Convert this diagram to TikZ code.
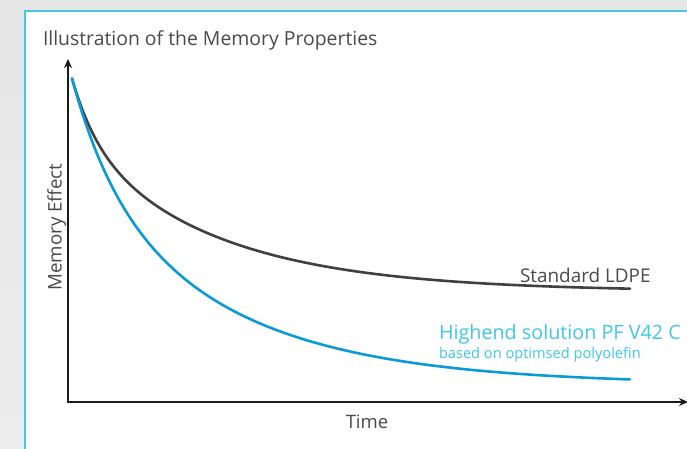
\documentclass[tikz,border=0pt]{standalone}
\usepackage{fontspec}
\setmainfont{Open Sans}
\usetikzlibrary{arrows.meta}
\definecolor{bggray}{HTML}{E6E6E6}
\definecolor{bggray2}{HTML}{EDEDED}
\definecolor{framecyan}{HTML}{45C8E6}
\definecolor{txtgray}{HTML}{4A4A4A}
\definecolor{ldpegray}{HTML}{404040}
\definecolor{pfblue}{HTML}{0A9AD6}
\definecolor{pfcyan}{HTML}{40C6E8}
\definecolor{axisblack}{HTML}{1A1A1C}
\tikzset{
  lbl/.style={inner sep=0pt, outer sep=0pt, text=txtgray},
  axisline/.style={draw=axisblack, line width=2.8pt, -{Stealth[length=9pt,width=8pt]}},
  curve/.style={line width=2.6pt, line cap=round, domain=72:630, samples=160}
}
\begin{document}
\begin{tikzpicture}[x=1pt,y=-1pt]
\useasboundingbox (0,0) rectangle (687,448);
% background
\shade[top color=bggray, bottom color=bggray2] (0,0) rectangle (687,448);
\fill[white] (25,11) rectangle (690,450);
\draw[framecyan, line width=2.6pt] (25,452) -- (25,11) -- (690,11);
% title
\node[lbl, anchor=base west, font=\fontsize{19.4}{23}\selectfont] (title) at (43,45.5) {Illustration of the Memory Properties};
% axes
\coordinate (O) at (68,402);
\coordinate (ytip) at (68,59);
\coordinate (xtip) at (688,402);
\draw[axisline] ([yshift=1.4pt]O) -- (ytip);
\draw[axisline] ([xshift=-1.4pt]O) -- (xtip);
% axis labels
\node[lbl, rotate=90, anchor=base, font=\fontsize{18.7}{22}\selectfont] (ylab) at (61.5,227) {Memory Effect};
\node[lbl, anchor=base, font=\fontsize{18.5}{22}\selectfont] (xlab) at (367,428) {Time};
% curves
\draw[curve, ldpegray] plot (\x, {291.5-60*exp(-(\x-72)/25)-153*exp(-(\x-72)/140)});
\draw[curve, pfblue] plot (\x, {384.5-96*exp(-(\x-72)/42)-210*exp(-(\x-72)/150)});
% curve labels
\node[lbl, anchor=base west, font=\fontsize{18.9}{22}\selectfont] (ldpe) at (520,282) {Standard LDPE};
\node[lbl, anchor=base west, text=pfcyan, font=\fontsize{19.75}{24}\selectfont] (pf) at (439,339) {Highend solution PF V42 C};
\node[lbl, anchor=base west, text=pfcyan, font=\fontsize{14.6}{17}\selectfont] (pfsub) at (439,358) {based on optimsed polyolefin};
\end{tikzpicture}
\end{document}
